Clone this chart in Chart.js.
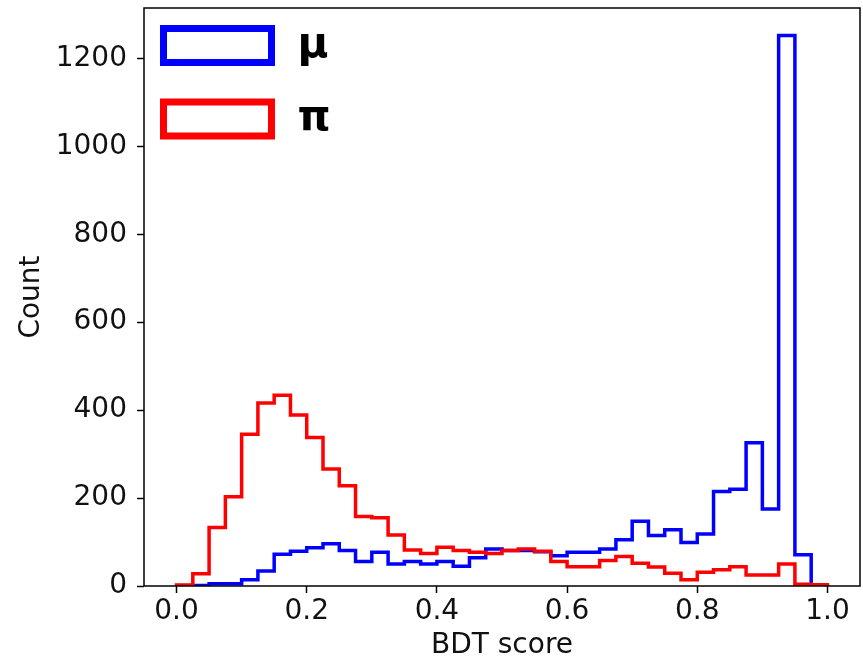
<!DOCTYPE html>
<html>
<head>
<meta charset="utf-8">
<title>BDT score</title>
<script src="https://cdn.jsdelivr.net/npm/chart.js@4.4.1/dist/chart.umd.min.js"></script>
<style>
  html, body { margin: 0; padding: 0; background: #fff; }
  canvas { display: block; }
</style>
</head>
<body>
<canvas id="bdtChart" width="863" height="660"></canvas>
<script>
// — histogram bins: 40 bins of 0.025 on [0, 1] —
const binEdges = [
  0.000, 0.025, 0.050, 0.075, 0.100, 0.125, 0.150, 0.175, 0.200, 0.225,
  0.250, 0.275, 0.300, 0.325, 0.350, 0.375, 0.400, 0.425, 0.450, 0.475,
  0.500, 0.525, 0.550, 0.575, 0.600, 0.625, 0.650, 0.675, 0.700, 0.725,
  0.750, 0.775, 0.800, 0.825, 0.850, 0.875, 0.900, 0.925, 0.950, 0.975,
  1.000
];

// counts per bin
const muCounts = [
  0, 1, 5, 5, 14, 34, 72, 79, 87, 96,
  81, 56, 77, 50, 56, 50, 56, 45, 64, 84,
  81, 81, 78, 69, 77, 77, 84, 105, 147, 115,
  128, 99, 118, 215, 220, 326, 175, 1252, 71, 0
];
const piCounts = [
  2, 28, 133, 203, 345, 416, 434, 389, 338, 266,
  228, 158, 155, 116, 82, 74, 88, 81, 77, 74,
  81, 84, 79, 56, 44, 44, 58, 67, 52, 43,
  29, 14, 31, 37, 44, 25, 25, 50, 4, 3
];

const xTicks = [0.0, 0.2, 0.4, 0.6, 0.8, 1.0];
const yTicks = [0, 200, 400, 600, 800, 1000, 1200];

const FONT = 'DejaVu Sans';

// counts -> step outline (rises from 0 at first edge, drops to 0 at last edge)
function stepPoints(counts) {
  const pts = [{ x: binEdges[0], y: 0 }];
  counts.forEach((c, i) => pts.push({ x: binEdges[i], y: c }));
  pts.push({ x: binEdges[binEdges.length - 1], y: 0 });
  return pts;
}

const yMax = Math.max(...muCounts, ...piCounts) * 1.05;

// box around the plot area, drawn on top of the lines
const frame = {
  id: 'frame',
  afterDatasetsDraw(chart) {
    const { ctx, chartArea: a } = chart;
    ctx.save();
    ctx.strokeStyle = '#000';
    ctx.lineWidth = 1.5;
    ctx.strokeRect(a.left, a.top, a.right - a.left, a.bottom - a.top);
    ctx.restore();
  }
};

// legend with hollow boxes, like a step histogram legend
const histLegend = {
  id: 'histLegend',
  afterDraw(chart, args, o) {
    const ctx = chart.ctx;
    ctx.save();
    chart.data.datasets.forEach((ds, i) => {
      const top = o.top + i * o.rowGap;
      ctx.lineWidth = o.lineWidth;
      ctx.strokeStyle = ds.borderColor;
      ctx.lineJoin = 'miter';
      ctx.strokeRect(o.left, top, o.boxWidth, o.boxHeight);
      ctx.fillStyle = '#000';
      ctx.font = o.font;
      ctx.textBaseline = 'alphabetic';
      ctx.fillText(ds.label, o.left + o.boxWidth + o.textGap, top + o.baseline);
    });
    ctx.restore();
  }
};

function fixWidth(w) {
  return s => {
    s.width = w;
    s.paddingTop = s.paddingBottom = s.paddingLeft = s.paddingRight = 0;
  };
}
function fixHeight(h) {
  return s => {
    s.height = h;
    s.paddingTop = s.paddingBottom = s.paddingLeft = s.paddingRight = 0;
  };
}

const tickGrid = {
  drawOnChartArea: false,
  drawTicks: true,
  tickLength: 7,
  tickWidth: 1.5,
  tickColor: '#000'
};

new Chart(document.getElementById('bdtChart'), {
  type: 'line',
  data: {
    datasets: [
      {
        label: 'μ',
        data: stepPoints(muCounts),
        borderColor: '#0000ff',
        borderWidth: 3.5,
        stepped: 'before',
        pointRadius: 0,
        fill: false,
        order: 1
      },
      {
        label: 'π',
        data: stepPoints(piCounts),
        borderColor: '#ff0000',
        borderWidth: 3.5,
        stepped: 'before',
        pointRadius: 0,
        fill: false,
        order: 0
      }
    ]
  },
  options: {
    responsive: false,
    animation: false,
    layout: { padding: { top: 8, right: 3, left: 0, bottom: 0 } },
    scales: {
      x: {
        type: 'linear',
        min: -0.05,
        max: 1.05,
        afterBuildTicks: s => { s.ticks = xTicks.map(v => ({ value: v })); },
        afterFit: fixHeight(74),
        grid: tickGrid,
        border: { display: false },
        ticks: {
          autoSkip: false,
          maxRotation: 0,
          padding: 2,
          color: '#111',
          font: { family: FONT, size: 28 },
          callback: v => v.toFixed(1)
        },
        title: {
          display: true,
          text: 'BDT score',
          color: '#111',
          font: { family: FONT, size: 28, lineHeight: 1.0 },
          padding: { top: 0, bottom: 0 }
        }
      },
      y: {
        min: 0,
        max: yMax,
        afterBuildTicks: s => { s.ticks = yTicks.map(v => ({ value: v })); },
        afterFit: fixWidth(144),
        grid: tickGrid,
        border: { display: false },
        ticks: {
          autoSkip: false,
          padding: 10,
          color: '#111',
          font: { family: FONT, size: 28 },
          callback: v => String(v)
        },
        title: {
          display: true,
          text: 'Count',
          color: '#111',
          font: { family: FONT, size: 28, lineHeight: 1.0 },
          padding: { top: 18, bottom: 0 }
        }
      }
    },
    plugins: {
      legend: { display: false },
      tooltip: { enabled: false },
      histLegend: {
        left: 163.5,
        top: 28.5,
        boxWidth: 108,
        boxHeight: 34,
        rowGap: 73.5,
        lineWidth: 7,
        textGap: 26,
        baseline: 28,
        font: 'bold 42px "DejaVu Sans"'
      }
    }
  },
  plugins: [frame, histLegend]
});
</script>
</body>
</html>
